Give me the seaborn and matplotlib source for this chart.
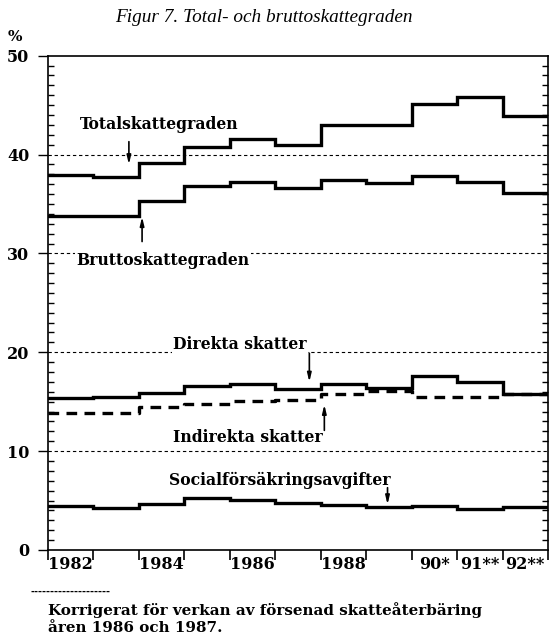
import numpy as np
import pandas as pd
import matplotlib
matplotlib.use("Agg")
import matplotlib.pyplot as plt
import seaborn as sns

years = [1982, 1983, 1984, 1985, 1986, 1987, 1988, 1989, 1990, 1991, 1992]
total = [37.9, 37.7, 39.1, 40.8, 41.6, 41.0, 43.0, 43.0, 45.1, 45.8, 43.9]
brutto = [33.8, 33.8, 35.3, 36.8, 37.2, 36.6, 37.4, 37.1, 37.8, 37.2, 36.1]
direkta = [15.35, 15.5, 15.9, 16.6, 16.8, 16.3, 16.8, 16.4, 17.6, 17.0, 15.8]
indirekta = [13.9, 13.9, 14.5, 14.75, 15.1, 15.2, 15.8, 16.1, 15.45, 15.5, 15.8]
social = [4.4, 4.2, 4.7, 5.3, 5.1, 4.8, 4.55, 4.3, 4.45, 4.1, 4.3]

label_years = [1982, 1984, 1986, 1988, 1990, 1991, 1992]
label_texts = ["1982", "1984", "1986", "1988", "90*", "91**", "92**"]

title = "Figur 7. Total- och bruttoskattegraden"
footnote = "Korrigerat för verkan av försenad skatteåterbäring\nåren 1986 och 1987."

sns.set_style("ticks")
plt.rcParams.update({"text.color": "black", "xtick.color": "black",
                     "ytick.color": "black", "axes.edgecolor": "black"})

fig = plt.figure(figsize=(5.51, 6.37), dpi=100)
ax = fig.add_axes([0.0871, 0.1366, 0.9074, 0.776])


def step_frame(vals):
    # extend last step to the end of 1992
    return pd.DataFrame({"year": years + [years[-1] + 1], "val": vals + [vals[-1]]})


for vals in [total, brutto, direkta, social]:
    sns.lineplot(data=step_frame(vals), x="year", y="val", ax=ax, color="black",
                 lw=2.4, drawstyle="steps-post", solid_joinstyle="miter", zorder=3)
sns.lineplot(data=step_frame(indirekta), x="year", y="val", ax=ax, color="black",
             lw=2.4, drawstyle="steps-post", dashes=False, zorder=3,
             linestyle=(0, (3.2, 2.2)))

for g in [10, 20, 30, 40]:
    ax.axhline(g, color="black", lw=0.8, ls=(0, (3, 2.5)), zorder=1)

ax.set_xlim(1982, 1993)
ax.set_ylim(0, 50)
ax.set_xlabel("")
ax.set_ylabel("")

tick_font = dict(family="DejaVu Serif", weight="bold", size=11.5, color="black")
ax.set_xticks(np.arange(1982, 1994))
ax.set_xticklabels([])
ax.set_xticks([y + 0.5 for y in label_years], minor=True)
ax.set_xticklabels(label_texts, minor=True, fontdict=tick_font)
ax.tick_params(axis="x", which="major", direction="out", length=7, width=1.2)
ax.tick_params(axis="x", which="minor", length=0, pad=4)

ax.set_yticks([0, 10, 20, 30, 40, 50])
ax.set_yticklabels(["0", "10", "20", "30", "40", "50"], fontdict=tick_font)
ax.set_yticks(np.arange(0, 51, 1), minor=True)
ax.tick_params(axis="y", which="major", direction="out", length=7.5, width=1.0,
               left=True, right=False, pad=6)
ax.tick_params(axis="y", which="minor", direction="in", length=4, width=1.0,
               left=True, right=True)

for s in ax.spines.values():
    s.set_visible(True)
    s.set_linewidth(1.2)
    s.set_color("black")

lab = dict(family="DejaVu Serif", fontstretch="condensed", weight="bold",
           size=12.5, ha="center", va="center", color="black")
arrow = dict(arrowstyle="-|>,head_length=0.5,head_width=0.12", color="black", lw=1.2,
             shrinkA=0, shrinkB=0)

ax.text(1984.44, 43.0, "Totalskattegraden", **lab)
ax.annotate("", xy=(1983.78, 39.0), xytext=(1983.78, 41.3), arrowprops=arrow)
ax.text(1984.53, 29.25, "Bruttoskattegraden", bbox=dict(fc="white", ec="none", pad=1), **lab)
ax.annotate("", xy=(1984.07, 33.7), xytext=(1984.07, 31.2), arrowprops=arrow)
ax.text(1986.23, 20.75, "Direkta skatter", bbox=dict(fc="white", ec="none", pad=1), **lab)
ax.annotate("", xy=(1987.75, 17.0), xytext=(1987.75, 19.9), arrowprops=arrow)
ax.text(1986.4, 11.4, "Indirekta skatter", **lab)
ax.annotate("", xy=(1988.08, 14.7), xytext=(1988.08, 12.1), arrowprops=arrow)
ax.text(1987.1, 7.0, "Socialförsäkringsavgifter", **lab)
ax.annotate("", xy=(1989.47, 4.6), xytext=(1989.47, 6.3), arrowprops=arrow)

fig.text(0.479, 0.972, title, ha="center", va="center", family="Liberation Serif",
         style="italic", size=13.9)
fig.text(0.027, 0.942, "%", ha="center", va="center", family="DejaVu Serif",
         weight="bold", size=11)
fig.text(0.055, 0.072, "-" * 20, ha="left", va="center", family="DejaVu Serif",
         weight="bold", size=7)
fig.text(0.087, 0.029, footnote, ha="left", va="center", family="DejaVu Serif",
         weight="bold", size=10.9, linespacing=1.2)

fig.savefig("out.png", dpi=100)
